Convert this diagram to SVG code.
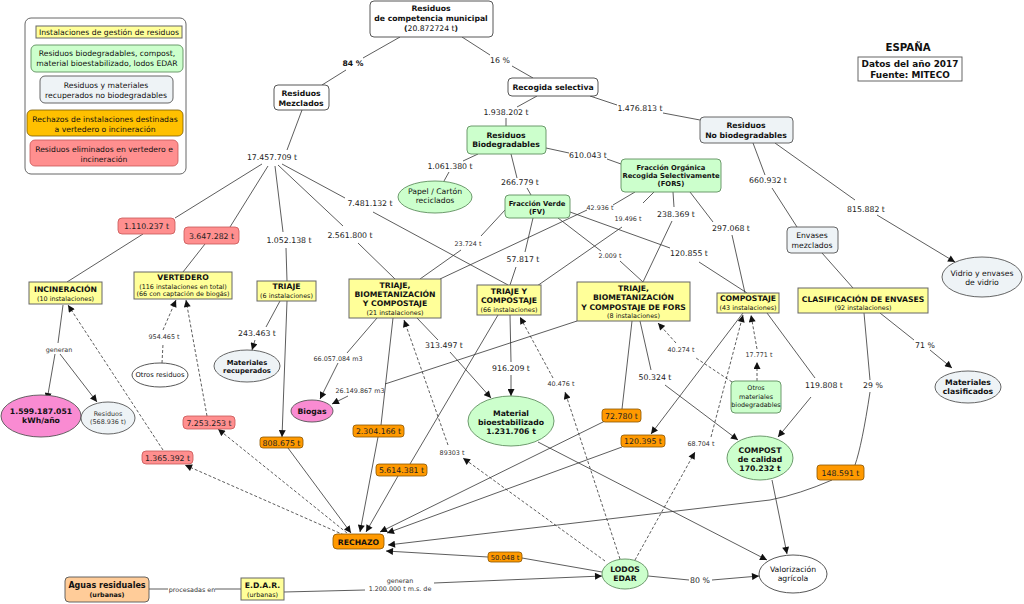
<svg xmlns="http://www.w3.org/2000/svg" width="1024" height="604" viewBox="0 0 1024 604">
<defs>
<marker id="ar" viewBox="0 0 10 10" refX="10" refY="5" markerWidth="8" markerHeight="7" orient="auto" markerUnits="userSpaceOnUse"><path d="M0,0 L10,5 L0,10 z" fill="#111"/></marker>
<style>
text{font-family:"DejaVu Sans","Noto Sans",sans-serif;text-anchor:middle;fill:#111}
.b{font-weight:bold;font-size:7.7px}
.r{font-size:7.7px}
.s{font-size:6.4px;fill:#333}
.sb{font-weight:bold;font-size:6.8px}
.lb{font-size:7.8px;fill:#222}
.ln{fill:none;stroke:#333;stroke-width:0.8}
.d{stroke-dasharray:3 2}
.a{marker-end:url(#ar)}
.yel{fill:#ffff99;stroke:#666;stroke-width:1}
.grn{fill:#ccffcc;stroke:#5f8f5f;stroke-width:0.9}
.gry{fill:#eef3f6;stroke:#555;stroke-width:0.9}
.org{fill:#ff9900;stroke:#8a5500;stroke-width:0.8}
.red{fill:#ff8f8f;stroke:#c65555;stroke-width:0.8}
.pnk{fill:#f98bd2;stroke:#555;stroke-width:0.9}
.wht{fill:#fff;stroke:#444;stroke-width:0.9}
</style>
</defs>
<rect width="1024" height="604" fill="#fff"/>

<g id="connectors">
<path class="ln" d="M400,37 L363,58 M346,70 L322,85"/>
<path class="ln" d="M462,37 L490,55 M512,66 L533,78"/>
<path class="ln" d="M302,110 L287,150"/>
<path class="ln" d="M262,164 L175,218 M143,234 L67,282"/>
<path class="ln" d="M268,166 L230,227 M205,244 L183,272"/>
<path class="ln" d="M275,166 L283,232 M286,248 L287,281"/>
<path class="ln" d="M278,165 L343,226 M358,243 L395,279"/>
<path class="ln" d="M282,164 L345,198 M373,212 L508,285"/>
<path class="ln" d="M537,96 L517,107 M506,118 L506,126"/>
<path class="ln" d="M590,96 L617,105 M663,113 L700,120"/>
<path class="ln" d="M478,154 L463,161 M449,172 L444,181"/>
<path class="ln" d="M546,148 L569,153 M607,159 L621,164"/>
<path class="ln" d="M511,154 L517,178 M527,188 L531,195"/>
<path class="ln" d="M753,143 L765,175 M772,188 L797,227"/>
<path class="ln a" d="M775,143 L855,200 M877,215 L955,262"/>
<path class="ln" d="M822,253 L853,288"/>
<path class="ln a" d="M880,313 L914,340 M930,350 L952,368"/>
<path class="ln" d="M864,313 L870,380 M870,392 Q862,445 855,465"/>
<path class="ln a" d="M832,480 Q800,494 770,500 L388,545"/>
<path class="ln" d="M63,305 L58,343"/>
<path class="ln a" d="M55,354 L47,400"/>
<path class="ln a" d="M60,354 L97,402"/>
<path class="ln d a" d="M163,450 L68,305"/>
<path class="ln d a" d="M207,416 L186,300"/>
<path class="ln d" d="M162,363 L163,344"/>
<path class="ln d a" d="M163,330 L176,300"/>
<path class="ln d a" d="M347,533 L218,429"/>
<path class="ln d a" d="M344,535 L185,465"/>
<path class="ln a" d="M280,301 L266,327 M255,340 L252,350"/>
<path class="ln a" d="M287,301 L282,437"/>
<path class="ln a" d="M288,448 L351,533"/>
<path class="ln a" d="M377,318 L347,353 M338,363 L320,399"/>
<path class="ln a" d="M577,321 L385,384 M348,396 L332,404"/>
<path class="ln" d="M393,318 L381,425"/>
<path class="ln a" d="M378,437 L360,532"/>
<path class="ln a" d="M417,318 L438,340 M450,352 L491,398"/>
<path class="ln d a" d="M605,561 L463,458"/>
<path class="ln d a" d="M448,445 L404,320"/>
<path class="ln d a" d="M620,559 L565,392"/>
<path class="ln d a" d="M553,378 L520,317"/>
<path class="ln d a" d="M635,560 L695,452"/>
<path class="ln d a" d="M711,437 L743,315"/>
<path class="ln d" d="M732,382 L696,358"/>
<path class="ln d a" d="M676,343 L658,323"/>
<path class="ln d a" d="M757,381 L757,362"/>
<path class="ln d a" d="M757,349 L751,315"/>
<path class="ln a" d="M510,315 L511,362 M511,375 L511,396"/>
<path class="ln" d="M498,315 L410,464"/>
<path class="ln a" d="M398,476 L366,532"/>
<path class="ln a" d="M538,442 L767,560"/>
<path class="ln a" d="M640,321 L651,370 M665,385 L738,440"/>
<path class="ln" d="M632,321 L622,409"/>
<path class="ln a" d="M605,421 L380,532"/>
<path class="ln a" d="M743,313 L651,434"/>
<path class="ln a" d="M622,447 L387,533"/>
<path class="ln a" d="M767,313 L815,378 M811,397 L778,437"/>
<path class="ln a" d="M772,480 L787,554"/>
<path class="ln a" d="M648,576 L689,580 M712,580 L759,576"/>
<path class="ln" d="M505,210 L481,236 M461,250 L420,279"/>
<path class="ln" d="M635,192 L613,205 M587,210 L440,279"/>
<path class="ln" d="M533,218 L525,252 M516,267 L510,285"/>
<path class="ln" d="M558,218 L601,251 M620,261 L643,282"/>
<path class="ln" d="M570,212 L670,248 M699,262 L747,293"/>
<path class="ln" d="M654,192 L643,203 M622,227 L537,286"/>
<path class="ln" d="M673,192 L674,207 M672,221 L643,282"/>
<path class="ln" d="M690,192 L713,222 M732,235 L745,293"/>
<path class="ln" d="M149,589 L168,589 M215,589 L241,589"/>
<path class="ln a" d="M284,592 L365,590 M434,583 L602,576"/>
<path class="ln a" d="M602,572 L522,558 M488,557 L386,551"/>
</g>

<g id="labels">
<text class="b" x="353" y="66">84 %</text>
<text class="lb" x="500" y="63">16 %</text>
<text class="lb" x="272" y="160">17.457.709 t</text>
<text class="lb" x="506" y="115">1.938.202 t</text>
<text class="lb" x="640" y="111">1.476.813 t</text>
<text class="lb" x="450" y="169">1.061.380 t</text>
<text class="lb" x="588" y="158">610.043 t</text>
<text class="lb" x="520" y="185">266.779 t</text>
<text class="lb" x="768" y="183">660.932 t</text>
<text class="lb" x="866" y="212">815.882 t</text>
<text class="s" x="468" y="246">23.724 t</text>
<text class="lb" x="370" y="206">7.481.132 t</text>
<text class="lb" x="289" y="243">1.052.138 t</text>
<text class="lb" x="350" y="238">2.561.800 t</text>
<text class="lb" x="523" y="262">57.817 t</text>
<text class="s" x="600" y="210">42.936 t</text>
<text class="s" x="628" y="221">19.496 t</text>
<text class="lb" x="676" y="217">238.369 t</text>
<text class="lb" x="731" y="231">297.068 t</text>
<text class="s" x="610" y="258">2.009 t</text>
<text class="lb" x="689" y="256">120.855 t</text>
<text class="lb" x="257" y="336">243.463 t</text>
<text class="s" x="164" y="339">954.465 t</text>
<text class="s" x="59" y="352">generan</text>
<text class="s" x="338" y="361">66.057.084 m3</text>
<text class="lb" x="444" y="348">313.497 t</text>
<text class="s" x="360" y="393">26.149.867 m3</text>
<text class="lb" x="511" y="371">916.209 t</text>
<text class="s" x="561" y="386">40.476 t</text>
<text class="s" x="681" y="352">40.274 t</text>
<text class="s" x="759" y="357">17.771 t</text>
<text class="lb" x="655" y="380">50.324 t</text>
<text class="lb" x="824" y="388">119.808 t</text>
<text class="lb" x="873" y="388">29 %</text>
<text class="lb" x="925" y="348">71 %</text>
<text class="s" x="452" y="455">89303 t</text>
<text class="s" x="701" y="446">68.704 t</text>
<text class="lb" x="700" y="583">80 %</text>
<text class="s" x="192" y="592">procesadas en</text>
<text class="s" x="400" y="583">generan</text>
<text class="s" x="400" y="591">1.200.000 t m.s. de</text>
</g>

<g id="legend">
<rect x="25" y="18" width="161" height="156" rx="6" fill="#fff" stroke="#555" stroke-width="0.9"/>
<rect x="36" y="26" width="146" height="12" class="yel"/>
<text class="r" x="109" y="35">Instalaciones de gestión de residuos</text>
<rect x="31" y="45" width="152" height="27" rx="5" class="grn"/>
<text class="r" x="107" y="56">Residuos biodegradables, compost,</text>
<text class="r" x="107" y="66">material bioestabilizado, lodos EDAR</text>
<rect x="40" y="76" width="133" height="27" rx="5" class="gry"/>
<text class="r" x="106" y="88">Residuos y materiales</text>
<text class="r" x="106" y="98">recuperados no biodegradables</text>
<rect x="27" y="110" width="156" height="26" rx="5" fill="#ffc000" stroke="#7a5a00" stroke-width="0.8"/>
<text class="r" x="105" y="122">Rechazos de instalaciones destinadas</text>
<text class="r" x="105" y="132">a vertedero o incineración</text>
<rect x="30" y="140" width="148" height="26" rx="5" class="red"/>
<text class="r" x="104" y="152">Residuos eliminados en vertedero e</text>
<text class="r" x="104" y="162">incineración</text>
</g>

<g id="titulo">
<text x="908" y="51" style="font-weight:bold;font-size:10.2px">ESPAÑA</text>
<rect x="858" y="57" width="104" height="24" fill="#fff" stroke="#555" stroke-width="0.9"/>
<text x="910" y="67" style="font-weight:bold;font-size:8.9px">Datos del año 2017</text>
<text x="910" y="78" style="font-weight:bold;font-size:8.9px">Fuente: MITECO</text>
</g>

<g id="n-municipal"><rect x="370" y="1" width="123" height="36" rx="4" class="wht"/>
<text class="b" x="431" y="11">Residuos</text><text class="b" x="431" y="21">de competencia municipal</text>
<text class="r" x="431" y="31"><tspan font-weight="bold">(</tspan>20.872724 t<tspan font-weight="bold">)</tspan></text></g>
<g id="n-mezclados"><rect x="274" y="85" width="55" height="25" rx="4" class="wht"/>
<text class="b" x="301" y="96">Residuos</text><text class="b" x="301" y="106">Mezclados</text></g>
<g id="n-recogida"><rect x="508" y="78" width="90" height="18" rx="4" class="wht"/>
<text class="b" x="553" y="90">Recogida selectiva</text></g>
<g id="n-nobio"><rect x="700" y="117" width="93" height="26" rx="4" class="gry"/>
<text class="b" x="746" y="128">Residuos</text><text class="b" x="746" y="138">No biodegradables</text></g>
<g id="n-bio"><rect x="467" y="126" width="79" height="28" rx="4" class="grn"/>
<text class="b" x="506" y="138">Residuos</text><text class="b" x="506" y="147">Biodegradables</text></g>
<g id="n-fors"><rect x="621" y="159" width="100" height="33" rx="4" class="grn"/>
<text class="sb" x="671" y="170">Fracción Orgánica</text><text class="sb" x="671" y="178">Recogida Selectivamente</text><text class="sb" x="671" y="186">(FORS)</text></g>
<g id="n-papel"><ellipse cx="435" cy="197" rx="37" ry="16" class="grn"/>
<text class="r" x="435" y="194">Papel / Cartón</text><text class="r" x="435" y="203">reciclados</text></g>
<g id="n-fv"><rect x="505" y="195" width="65" height="23" rx="4" class="grn"/>
<text class="sb" x="537" y="206">Fracción Verde</text><text class="sb" x="537" y="214">(FV)</text></g>
<g id="n-envases"><rect x="787" y="227" width="51" height="26" rx="4" class="gry"/>
<text class="r" x="812" y="238">Envases</text><text class="r" x="812" y="248">mezclados</text></g>
<g id="n-vidrio"><ellipse cx="982" cy="277" rx="40" ry="20" class="gry"/>
<text class="r" x="982" y="276">Vidrio y envases</text><text class="r" x="982" y="285">de vidrio</text></g>
<g id="n-clasif"><rect x="798" y="288" width="130" height="25" class="yel"/>
<text class="b" x="863" y="302">CLASIFICACIÓN DE ENVASES</text><text class="s" x="863" y="310" style="fill:#111">(92 instalaciones)</text></g>
<g id="n-matclas"><ellipse cx="968" cy="387" rx="33" ry="16" class="gry"/>
<text class="b" x="968" y="385">Materiales</text><text class="b" x="968" y="394">clasificados</text></g>
<g id="n-incin"><rect x="29" y="282" width="73" height="22" class="yel"/>
<text class="b" x="65.5" y="292">INCINERACIÓN</text><text class="s" x="65.5" y="301" style="fill:#111">(10 instalaciones)</text></g>
<g id="n-vert"><rect x="134" y="272" width="98" height="27" class="yel"/>
<text class="b" x="183" y="280">VERTEDERO</text><text class="s" x="183" y="288.5" style="fill:#111">(116 instalaciones en total)</text><text class="s" x="183" y="296" style="fill:#111">(66 con captación de biogás)</text></g>
<g id="n-triaje"><rect x="257" y="281" width="59" height="20" class="yel"/>
<text class="b" x="286.5" y="289">TRIAJE</text><text class="s" x="286.5" y="297.5" style="fill:#111">(6 instalaciones)</text></g>
<g id="n-tbc"><rect x="349" y="279" width="92" height="39" class="yel"/>
<text class="b" x="395" y="288">TRIAJE,</text><text class="b" x="395" y="297">BIOMETANIZACIÓN</text><text class="b" x="395" y="306">Y COMPOSTAJE</text><text class="s" x="395" y="315" style="fill:#111">(21 instalaciones)</text></g>
<g id="n-tyc"><rect x="477" y="285" width="64" height="30" class="yel"/>
<text class="b" x="509" y="294">TRIAJE Y</text><text class="b" x="509" y="303">COMPOSTAJE</text><text class="s" x="509" y="311.5" style="fill:#111">(66 instalaciones)</text></g>
<g id="n-tbcf"><rect x="577" y="282" width="113" height="39" class="yel"/>
<text class="b" x="633.5" y="291">TRIAJE,</text><text class="b" x="633.5" y="300">BIOMETANIZACIÓN</text><text class="b" x="633.5" y="309.5">Y COMPOSTAJE DE FORS</text><text class="s" x="633.5" y="318" style="fill:#111">(8 instalaciones)</text></g>
<g id="n-compostaje"><rect x="717" y="293" width="62" height="20" class="yel"/>
<text class="b" x="748" y="301">COMPOSTAJE</text><text class="s" x="748" y="309.5" style="fill:#111">(43 instalaciones)</text></g>
<g id="n-matrec"><ellipse cx="247" cy="366" rx="33" ry="16" class="gry"/>
<text class="sb" x="247" y="365">Materiales</text><text class="sb" x="247" y="373">recuperados</text></g>
<g id="n-otrosres"><ellipse cx="160" cy="375" rx="28" ry="12" class="wht"/>
<text class="s" x="160" y="377" style="fill:#111;font-size:6.8px">Otros residuos</text></g>
<g id="n-kwh"><ellipse cx="41" cy="416" rx="40" ry="21" class="pnk"/>
<text class="b" x="41" y="414">1.599.187.051</text><text class="b" x="41" y="423">kWh/año</text></g>
<g id="n-resinc"><ellipse cx="108" cy="418" rx="27" ry="16" class="gry"/>
<text class="s" x="108" y="416">Residuos</text><text class="s" x="108" y="424">(568.936 t)</text></g>
<g id="n-biogas"><ellipse cx="312" cy="411" rx="21" ry="11" class="pnk"/>
<text class="b" x="312" y="414">Biogas</text></g>
<g id="n-matbio"><ellipse cx="511" cy="421" rx="43" ry="25" class="grn"/>
<text class="b" x="511" y="416">Material</text><text class="b" x="511" y="425">bioestabilizado</text><text class="b" x="511" y="434">1.231.706 t</text></g>
<g id="n-otrosmat"><rect x="731" y="381" width="50" height="32" rx="4" class="grn"/>
<text class="s" x="756" y="390" style="fill:#111">Otros</text><text class="s" x="756" y="398.5" style="fill:#111">materiales</text><text class="s" x="756" y="406.5" style="fill:#111">biodegradables</text></g>
<g id="n-compost"><ellipse cx="760" cy="458" rx="33" ry="22" class="grn"/>
<text class="b" x="760" y="453">COMPOST</text><text class="b" x="760" y="462">de calidad</text><text class="b" x="760" y="471">170.232 t</text></g>
<g id="n-lodos"><ellipse cx="625" cy="574" rx="23" ry="15" class="grn"/>
<text class="b" x="625" y="572">LODOS</text><text class="b" x="625" y="581">EDAR</text></g>
<g id="n-valor"><ellipse cx="793" cy="574" rx="34" ry="19" class="wht"/>
<text class="r" x="793" y="572">Valorización</text><text class="r" x="793" y="581">agrícola</text></g>
<g id="n-rechazo"><rect x="333" y="534" width="51" height="15" rx="4" class="org"/>
<text class="b" x="358.5" y="544.5">RECHAZO</text></g>
<g id="n-aguas"><rect x="65" y="577" width="84" height="25" rx="4" fill="#ffcc99" stroke="#555" stroke-width="0.9"/>
<text class="b" x="107" y="588" style="font-size:8px">Aguas residuales</text><text class="sb" x="107" y="597" style="font-size:6.4px">(urbanas)</text></g>
<g id="n-edar"><rect x="241" y="578" width="43" height="22" class="yel"/>
<text class="b" x="262.5" y="588">E.D.A.R.</text><text class="s" x="262.5" y="597" style="fill:#111">(urbanas)</text></g>

<g id="n-1110237"><rect x="118" y="218" width="57" height="16" rx="4" class="red"/><text class="lb" x="146.5" y="229">1.110.237 t</text></g>
<g id="n-3647282"><rect x="184" y="227" width="55" height="17" rx="4" class="red"/><text class="lb" x="211.5" y="238.5">3.647.282 t</text></g>
<g id="n-7253253"><rect x="183" y="416" width="52" height="13" rx="4" class="red"/><text class="lb" x="209" y="425.5">7.253.253 t</text></g>
<g id="n-1365392"><rect x="142" y="451" width="51" height="13" rx="4" class="red"/><text class="lb" x="167.5" y="460.5">1.365.392 t</text></g>
<g id="n-808675"><rect x="260" y="437" width="43" height="11" rx="3" class="org"/><text class="lb" x="281.5" y="445.5">808.675 t</text></g>
<g id="n-2304166"><rect x="353" y="425" width="51" height="12" rx="3" class="org"/><text class="lb" x="378.5" y="434">2.304.166 t</text></g>
<g id="n-5614381"><rect x="376" y="464" width="51" height="12" rx="3" class="org"/><text class="lb" x="401.5" y="473">5.614.381 t</text></g>
<g id="n-72780"><rect x="602" y="409" width="39" height="13" rx="3" class="org"/><text class="lb" x="621.5" y="418.5">72.780 t</text></g>
<g id="n-120395"><rect x="621" y="435" width="44" height="12" rx="3" class="org"/><text class="lb" x="643" y="444">120.395 t</text></g>
<g id="n-148591"><rect x="817" y="465" width="47" height="15" rx="3" class="org"/><text class="lb" x="840.5" y="475.5">148.591 t</text></g>
<g id="n-50048"><rect x="488" y="552" width="34" height="10" rx="3" class="org"/><text class="lb" x="505" y="560" style="font-size:6.8px">50.048 t</text></g>
</svg>
